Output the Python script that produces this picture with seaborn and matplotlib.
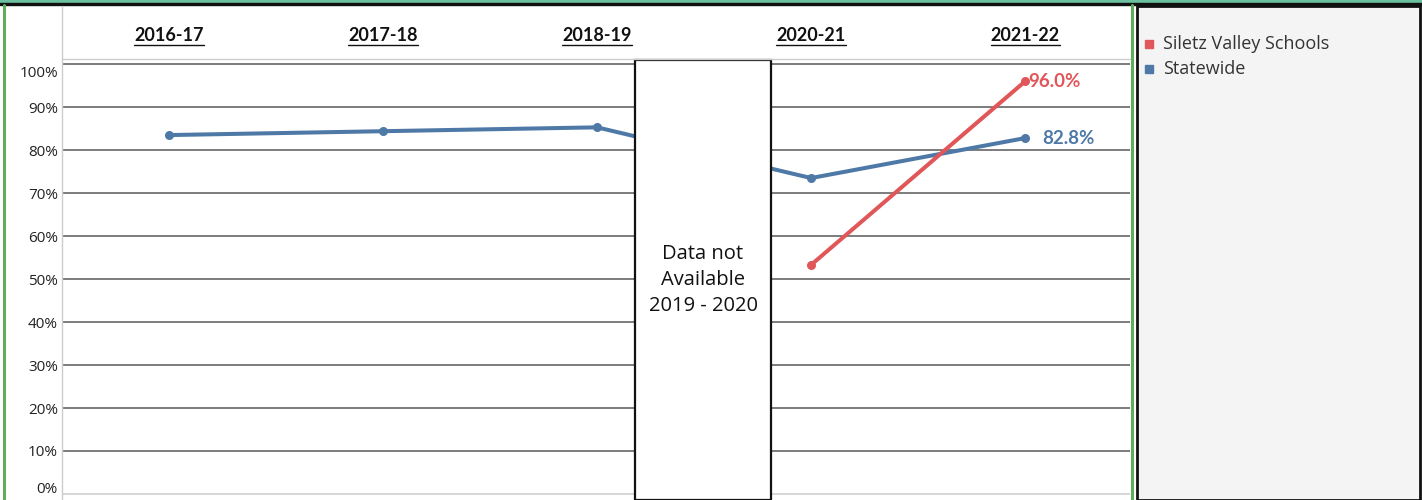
import pandas as pd
import matplotlib.pyplot as plt
import matplotlib.transforms as mtransforms
from matplotlib.patches import Rectangle
from matplotlib.lines import Line2D
import seaborn as sns

years = ['2016-17', '2017-18', '2018-19', '2020-21', '2021-22']
statewide = [83.5, 84.4, 85.3, 73.5, 82.8]
siletz_years = ['2020-21', '2021-22']
siletz = [53.3, 96.0]
series_names = ['Siletz Valley Schools', 'Statewide']
colors = {'Siletz Valley Schools': '#e15759', 'Statewide': '#4e79a7'}
yticks = [0, 10, 20, 30, 40, 50, 60, 70, 80, 90, 100]
gap_note = 'Data not\nAvailable\n2019 - 2020'

df = pd.concat([
    pd.DataFrame({'year': [years.index(y) for y in years], 'pct': statewide, 'series': 'Statewide'}),
    pd.DataFrame({'year': [years.index(y) for y in siletz_years], 'pct': siletz, 'series': 'Siletz Valley Schools'}),
])

sns.set_style('white')
plt.rcParams['font.family'] = ['Open Sans', 'DejaVu Sans']

W, H = 1422, 500
fig = plt.figure(figsize=(W / 100, H / 100), dpi=100)
fig.patch.set_facecolor('white')

def px(x0, y0, x1, y1):
    return [x0 / W, 1 - y1 / H, (x1 - x0) / W, (y1 - y0) / H]

# frame decorations
fig.patches.append(Rectangle((0, 1 - 3 / H), 1, 3 / H, transform=fig.transFigure, color='#6cbf9f', zorder=0))
fig.patches.append(Rectangle((0, 1 - 5 / H), 1, 2 / H, transform=fig.transFigure, color='#111111', zorder=0))
fig.patches.append(Rectangle((1137 / W, 0), 283 / W, 1 - 6 / H, transform=fig.transFigure,
                             facecolor='#f4f4f4', edgecolor='#111111', lw=2, zorder=0))
fig.add_artist(Line2D([4 / W, 4 / W], [0, 1 - 5 / H], color='#5fae57', lw=2.2))
fig.add_artist(Line2D([1132 / W, 1132 / W], [0, 1 - 5 / H], color='#5fae57', lw=2.2))
fig.add_artist(Line2D([62 / W, 62 / W], [0, 1 - 6 / H], color='#cccccc', lw=1))
fig.add_artist(Line2D([62 / W, 1130 / W], [1 - 59 / H, 1 - 59 / H], color='#cccccc', lw=1))

ax = fig.add_axes(px(62, 62, 1130, 500))
ax.set_facecolor('none')

sns.lineplot(data=df, x='year', y='pct', hue='series', palette=colors, marker='o',
             markersize=6.5, markeredgewidth=0, linewidth=2.9, legend=False, ax=ax, zorder=3)

ax.set_xlim(-0.5, 4.49)
ax.set_ylim(-1.4, 100.5)
for v in yticks:
    ax.axhline(v, color='#d0d0d0' if v == 0 else '#666666', lw=1.2, zorder=1)

ax.set_yticks(yticks)
ax.set_yticklabels([f'{v}%' for v in yticks], fontsize=11, color='#222222')
ax.tick_params(axis='y', length=0, pad=3)
ax.set_xticks([])
ax.set_xlabel('')
ax.set_ylabel('')
for s in ax.spines.values():
    s.set_visible(False)
labels = ax.get_yticklabels()
labels[-1].set_transform(labels[-1].get_transform() + mtransforms.ScaledTranslation(0, -7 / 100, fig.dpi_scale_trans))
labels[0].set_transform(labels[0].get_transform() + mtransforms.ScaledTranslation(0, 6 / 100, fig.dpi_scale_trans))

# year headers (bold, underlined)
hdr = mtransforms.blended_transform_factory(ax.transData, fig.transFigure)
year_texts = [ax.text(i, 1 - 35 / H, y, transform=hdr, ha='center', va='center',
                      fontsize=13, fontweight='bold', family=['Lato', 'DejaVu Sans'], color='#111111')
              for i, y in enumerate(years)]

# end labels
ax.annotate(f'{siletz[-1]:.1f}%', (years.index(siletz_years[-1]), siletz[-1]), xytext=(2, 0),
            textcoords='offset points', ha='left', va='center', fontsize=13.5, fontweight='bold',
            family=['Lato', 'DejaVu Sans'], color=colors['Siletz Valley Schools'], zorder=4)
ax.annotate(f'{statewide[-1]:.1f}%', (len(years) - 1, statewide[-1]), xytext=(12, 0),
            textcoords='offset points', ha='left', va='center', fontsize=13.5, fontweight='bold',
            family=['Lato', 'DejaVu Sans'], color=colors['Statewide'], zorder=4)

# gap box
ax.add_patch(Rectangle((2.178, 0), 0.635, 1.005, transform=mtransforms.blended_transform_factory(ax.transData, ax.transAxes),
                       facecolor='white', edgecolor='#111111', lw=1.6, zorder=5, clip_on=False))
ax.text(2.495, 49.8, gap_note, ha='center', va='center', fontsize=14.5, linespacing=1.42,
        color='#111111', zorder=6, family=['Open Sans', 'DejaVu Sans'])

# legend
for k, name in enumerate(series_names):
    yy = 1 - (44 + 25 * k) / H
    fig.patches.append(Rectangle((1145 / W, yy - 4 / H), 8 / W, 8 / H, transform=fig.transFigure,
                                 color=colors[name], zorder=2))
    fig.text(1163 / W, yy, name, ha='left', va='center', fontsize=13, color='#333333')

fig.canvas.draw()
r = fig.canvas.get_renderer()
for t in year_texts:
    bb = t.get_window_extent(r)
    fig.add_artist(Line2D([bb.x0 / W, bb.x1 / W], [(bb.y0 - 1) / H, (bb.y0 - 1) / H], color='#111111', lw=1))

fig.savefig('out.png', dpi=100)
